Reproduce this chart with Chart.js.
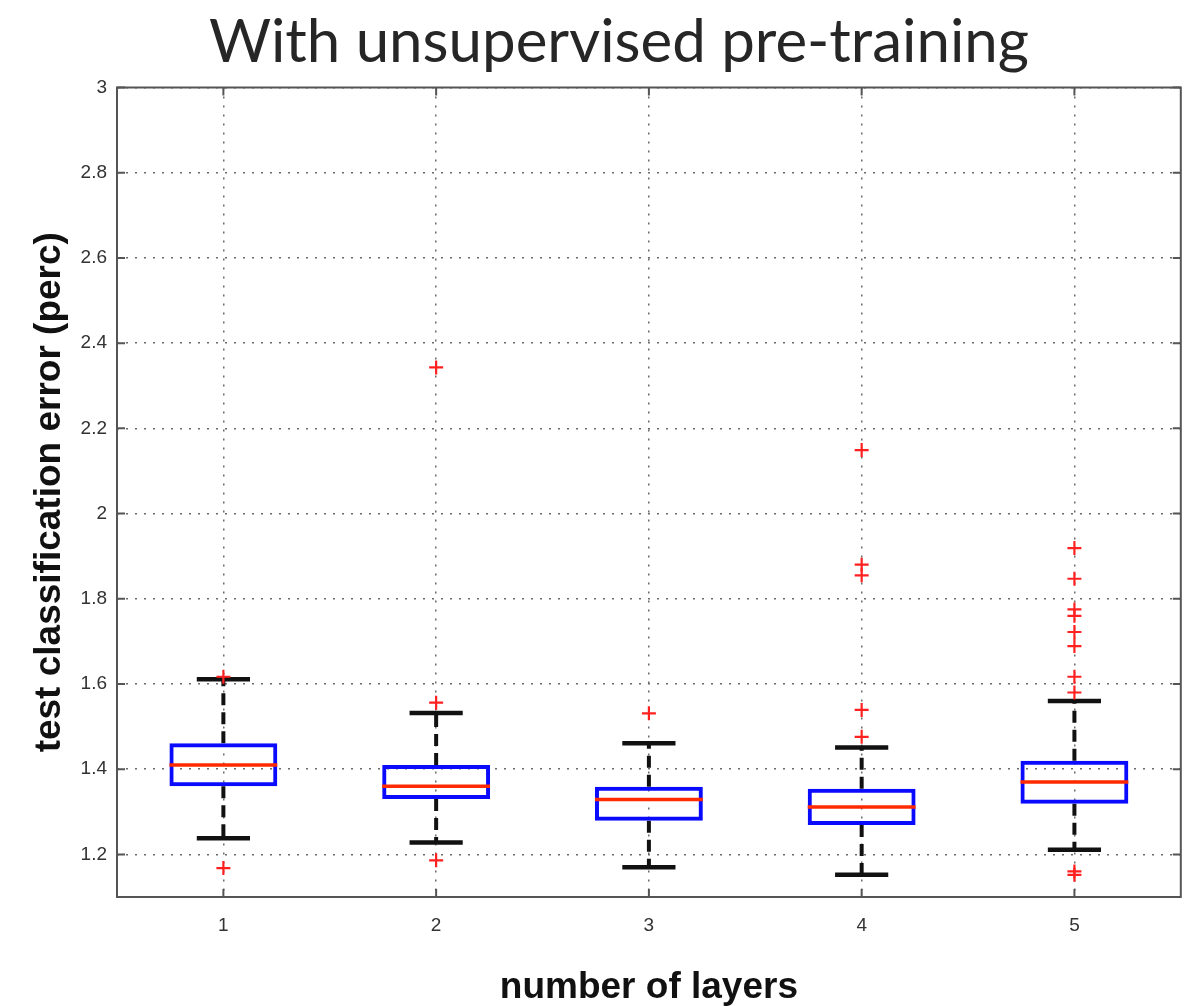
<!DOCTYPE html>
<html>
<head>
<meta charset="utf-8">
<title>With unsupervised pre-training</title>
<script src="https://cdn.jsdelivr.net/npm/chart.js@4/dist/chart.umd.min.js"></script>
<style>
    body { margin: 0; background: #fff; }
    #wrap { width: 1190px; height: 1006px; }
</style>
</head>
<body>
<div id="wrap"><canvas id="myChart" width="1190" height="1006"></canvas></div>
<script>
// Box plot values (test classification error, %)
const layers = [1, 2, 3, 4, 5];
const lowerWhisker = [1.238, 1.228, 1.170, 1.152, 1.211];
const quartile1 = [1.360, 1.330, 1.279, 1.269, 1.319];
const median = [1.410, 1.360, 1.329, 1.311, 1.370];
const quartile3 = [1.461, 1.410, 1.359, 1.354, 1.420];
const upperWhisker = [1.611, 1.532, 1.461, 1.451, 1.560];
const outliers = [
    [1.617, 1.168],
    [2.343, 1.556, 1.186],
    [1.531],
    [2.149, 1.880, 1.855, 1.539, 1.476],
    [1.919, 1.847, 1.775, 1.760, 1.722, 1.689, 1.617, 1.580, 1.160, 1.152]
];
const yTicks = [1.2, 1.4, 1.6, 1.8, 2, 2.2, 2.4, 2.6, 2.8, 3];

const boxWidth = 0.507;   // in x units (one layer = 1)
const capWidth = 0.25;

// Build the line datasets for the box plot pieces
function buildMedianLines() {
    let pts = [];
    layers.forEach(function(x, i) {
        pts.push({x: x - boxWidth / 2, y: median[i]});
        pts.push({x: x + boxWidth / 2, y: median[i]});
        pts.push({x: x + boxWidth / 2, y: null});
    });
    return pts;
}

function buildCaps() {
    let pts = [];
    layers.forEach(function(x, i) {
        [lowerWhisker[i], upperWhisker[i]].forEach(function(v) {
            pts.push({x: x - capWidth / 2, y: v});
            pts.push({x: x + capWidth / 2, y: v});
            pts.push({x: x + capWidth / 2, y: null});
        });
    });
    return pts;
}

function buildWhiskers() {
    let pts = [];
    layers.forEach(function(x, i) {
        pts.push({x: x, y: quartile1[i]});
        pts.push({x: x, y: lowerWhisker[i]});
        pts.push({x: x, y: null});
        pts.push({x: x, y: quartile3[i]});
        pts.push({x: x, y: upperWhisker[i]});
        pts.push({x: x, y: null});
    });
    return pts;
}

function buildOutliers() {
    let pts = [];
    layers.forEach(function(x, i) {
        outliers[i].forEach(function(v) {
            pts.push({x: x, y: v});
        });
    });
    return pts;
}

// Frame around the plot with inward tick marks (matlab look)
const framePlugin = {
    id: 'frame',
    afterDraw: function(chart) {
        const ctx = chart.ctx;
        const a = chart.chartArea;
        const xs = chart.scales.x;
        const ys = chart.scales.y;
        const len = 8;
        ctx.save();
        ctx.strokeStyle = '#555';
        ctx.lineWidth = 2;
        ctx.strokeRect(a.left, a.top, a.right - a.left, a.bottom - a.top);
        ctx.beginPath();
        ys.ticks.forEach(function(t) {
            const py = ys.getPixelForValue(t.value);
            ctx.moveTo(a.left, py); ctx.lineTo(a.left + len, py);
            ctx.moveTo(a.right, py); ctx.lineTo(a.right - len, py);
        });
        xs.ticks.forEach(function(t) {
            const px = xs.getPixelForValue(t.value);
            ctx.moveTo(px, a.bottom); ctx.lineTo(px, a.bottom - len);
            ctx.moveTo(px, a.top); ctx.lineTo(px, a.top + len);
        });
        ctx.stroke();
        ctx.restore();
    }
};

// Slide-style title above the plot
const titlePlugin = {
    id: 'slideTitle',
    afterDraw: function(chart) {
        const ctx = chart.ctx;
        ctx.save();
        ctx.font = '60px Lato';
        ctx.fillStyle = '#262626';
        ctx.textAlign = 'center';
        ctx.textBaseline = 'alphabetic';
        ctx.fillText('With unsupervised pre-training', 619, 62);
        ctx.restore();
    }
};

function initializeChart() {
    const ctx = document.getElementById('myChart').getContext('2d');
    new Chart(ctx, {
        type: 'scatter',
        data: {
            datasets: [
                {
                    type: 'scatter',
                    label: 'outliers',
                    data: buildOutliers(),
                    pointStyle: 'cross',
                    pointRadius: 7,
                    pointBorderWidth: 2.2,
                    borderColor: '#ff2020',
                    backgroundColor: '#ff2020'
                },
                {
                    type: 'line',
                    label: 'median',
                    data: buildMedianLines(),
                    borderColor: '#ff2a00',
                    borderWidth: 3.5,
                    pointRadius: 0,
                    spanGaps: false
                },
                {
                    type: 'bar',
                    label: 'box',
                    data: layers.map(function(x, i) { return {x: x, y: [quartile1[i], quartile3[i]]}; }),
                    backgroundColor: 'rgba(0,0,0,0)',
                    borderColor: '#0a0aff',
                    borderWidth: 4,
                    borderSkipped: false,
                    barPercentage: boxWidth,
                    categoryPercentage: 1
                },
                {
                    type: 'line',
                    label: 'caps',
                    data: buildCaps(),
                    borderColor: '#111',
                    borderWidth: 4.5,
                    pointRadius: 0,
                    spanGaps: false
                },
                {
                    type: 'line',
                    label: 'whiskers',
                    data: buildWhiskers(),
                    borderColor: '#111',
                    borderWidth: 4,
                    borderDash: [12, 7],
                    pointRadius: 0,
                    spanGaps: false
                }
            ]
        },
        options: {
            responsive: false,
            animation: false,
            layout: { padding: { top: 87.5, right: 7.5, bottom: 0, left: 0 } },
            plugins: {
                legend: { display: false },
                tooltip: { enabled: false }
            },
            scales: {
                x: {
                    type: 'linear',
                    min: 0.5,
                    max: 5.5,
                    offset: false,
                    afterFit: function(scale) { scale.height = 109; },
                    afterBuildTicks: function(scale) {
                        scale.ticks = layers.map(function(v) { return {value: v}; });
                    },
                    ticks: {
                        padding: 17,
                        color: '#333',
                        font: { family: 'Liberation Sans', size: 19 },
                        callback: function(v) { return String(v); }
                    },
                    grid: { color: '#6a6a6a', lineWidth: 1.5, drawTicks: false, offset: false },
                    border: { display: false, dash: [2, 7] },
                    title: {
                        display: true,
                        text: 'number of layers',
                        color: '#111',
                        font: { family: 'Liberation Sans', size: 37, weight: 'bold', lineHeight: 1 },
                        padding: { top: 0, bottom: 0 }
                    }
                },
                y: {
                    type: 'linear',
                    min: 1.1,
                    max: 3,
                    afterFit: function(scale) { scale.width = 117; },
                    afterBuildTicks: function(scale) {
                        scale.ticks = yTicks.map(function(v) { return {value: v}; });
                    },
                    ticks: {
                        padding: 10,
                        color: '#333',
                        font: { family: 'Liberation Sans', size: 19 },
                        callback: function(v) { return String(Math.round(v * 10) / 10); }
                    },
                    grid: { color: '#6a6a6a', lineWidth: 1.5, drawTicks: false },
                    border: { display: false, dash: [2, 7] },
                    title: {
                        display: true,
                        text: 'test classification error (perc)',
                        color: '#111',
                        font: { family: 'Liberation Sans', size: 37, weight: 'bold', lineHeight: 1 },
                        padding: { top: 31, bottom: 0 }
                    }
                }
            }
        },
        plugins: [framePlugin, titlePlugin]
    });
}

initializeChart();
</script>
</body>
</html>
